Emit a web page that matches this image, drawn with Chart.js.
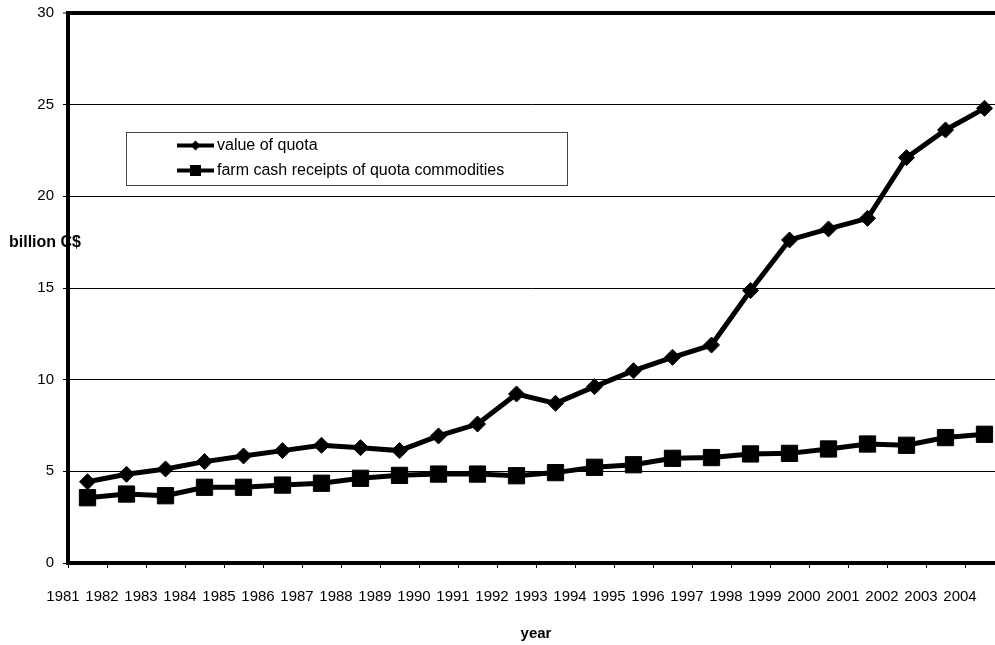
<!DOCTYPE html>
<html><head><meta charset="utf-8">
<style>html,body{margin:0;padding:0;background:#fff;overflow:hidden}
#wrap{position:relative;width:995px;height:645px}</style>
<script src="https://cdn.jsdelivr.net/npm/chart.js@4/dist/chart.umd.min.js"></script>
</head><body><div id="wrap"><canvas id="c" width="995" height="645" style="width:995px;height:645px"></canvas></div>
<script>
const years = ['1981','1982','1983','1984','1985','1986','1987','1988','1989','1990','1991','1992','1993','1994','1995','1996','1997','1998','1999','2000','2001','2002','2003','2004'];
const valueOfQuota = [4.43,4.84,5.13,5.53,5.84,6.13,6.42,6.29,6.13,6.93,7.58,9.22,8.71,9.62,10.49,11.22,11.89,14.86,17.62,18.22,18.8,22.11,23.62,24.8];
const farmCashReceipts = [3.56,3.76,3.67,4.13,4.13,4.25,4.35,4.62,4.78,4.85,4.85,4.76,4.93,5.22,5.36,5.71,5.75,5.95,5.98,6.22,6.49,6.42,6.84,7.02];
const yTicks = [0,5,10,15,20,25,30];
const seriesLabels = ['value of quota','farm cash receipts of quota commodities'];
const yTitle = 'billion C$';
const xTitle = 'year';

const FONT = "'Liberation Sans', Arial, sans-serif";

function diamond(ctx, x, y, r){
  ctx.beginPath(); ctx.moveTo(x-r,y); ctx.lineTo(x,y-r); ctx.lineTo(x+r,y); ctx.lineTo(x,y+r); ctx.closePath(); ctx.fill();
}
function square(ctx, x, y, h){ ctx.fillRect(x-h,y-h,2*h,2*h); }

const overlay = {
  id:'overlay',
  beforeDraw(chart){
    const ctx = chart.ctx;
    ctx.save();
    ctx.fillStyle='#000';
    ctx.font = "bold 16px " + FONT;
    ctx.textAlign='left'; ctx.textBaseline='middle';
    ctx.fillText(yTitle, 9, 243);
    ctx.restore();
  },
  afterDraw(chart){
    const ctx = chart.ctx;
    ctx.save();
    ctx.fillStyle='#000';
    ctx.font = "bold 15px " + FONT;
    ctx.textAlign='center'; ctx.textBaseline='middle';
    ctx.fillText(xTitle, 536, 634);
    // legend
    ctx.fillStyle='#fff'; ctx.fillRect(126.5,132.5,441,53);
    ctx.strokeStyle='#444'; ctx.lineWidth=1; ctx.strokeRect(126.5,132.5,441,53);
    chart.data.datasets.forEach((ds,i)=>{
      const y = 145.5 + i*25;
      ctx.strokeStyle='#000'; ctx.lineWidth=4;
      ctx.beginPath(); ctx.moveTo(177,y); ctx.lineTo(214,y); ctx.stroke();
      ctx.fillStyle='#000';
      if (i===0) diamond(ctx,195.5,y,5); else square(ctx,195.5,y,5.5);
      ctx.font = "16px " + FONT;
      ctx.textAlign='left'; ctx.textBaseline='middle';
      ctx.fillText(ds.label, 217, y);
    });
    ctx.restore();
  }
};

const xMax = (995-68)/39;

new Chart(document.getElementById('c'), {
  type:'line',
  data:{
    datasets:[
      {label:seriesLabels[0], data: valueOfQuota.map((v,i)=>({x:i+0.5,y:v})), borderColor:'#000', backgroundColor:'#000', borderWidth:5,
       pointStyle:'rectRot', pointRadius:8, pointBorderWidth:1, pointBorderColor:'#000', pointBackgroundColor:'#000', tension:0, clip:false},
      {label:seriesLabels[1], data: farmCashReceipts.map((v,i)=>({x:i+0.5,y:v})), borderColor:'#000', backgroundColor:'#000', borderWidth:5,
       pointStyle:'rect', pointRadius:11.5, pointBorderWidth:1, pointBorderColor:'#000', pointBackgroundColor:'#000', tension:0, clip:false}
    ]
  },
  options:{
    responsive:false, maintainAspectRatio:false, animation:false, devicePixelRatio:1,
    layout:{autoPadding:false, padding:{top:13,left:0,right:0,bottom:0}},
    plugins:{legend:{display:false}, tooltip:{enabled:false}},
    scales:{
      x:{type:'linear', min:0, max:xMax,
        afterBuildTicks(s){ s.ticks = years.map((y,i)=>({value:i})); },
        afterFit(s){ s.height = 82; s.paddingLeft = 0; s.paddingRight = 0; },
        grid:{drawOnChartArea:false, drawTicks:true, tickLength:5, tickWidth:1, tickColor:'#000'},
        border:{display:true, color:'#000', width:4},
        ticks:{autoSkip:false, maxRotation:0, minRotation:0, padding:20, labelOffset:-5, color:'#000',
          font:{family:FONT, size:15}, callback:(v)=>years[Math.round(v)]}
      },
      y:{type:'linear', min:0, max:30,
        afterBuildTicks(s){ s.ticks = yTicks.map(v=>({value:v})); },
        afterFit(s){ s.width = 68; s.paddingTop = 0; s.paddingBottom = 0; },
        grid:{color:'#000', lineWidth:(c)=> (c.tick && c.tick.value===30) ? 4 : 1, drawTicks:true, tickLength:5, tickWidth:1, tickColor:'#000'},
        border:{display:true, color:'#000', width:4},
        ticks:{padding:9, color:'#000', font:{family:FONT, size:15}}
      }
    }
  },
  plugins:[overlay]
});
</script></body></html>
